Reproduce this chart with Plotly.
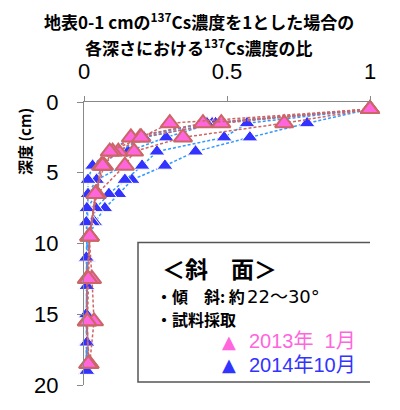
import plotly.graph_objects as go

# ---------------- data ----------------
pink_depth = [0.5, 1.5, 2.5, 3.5, 4.5, 6.5, 9.5, 12.5, 15.5, 18.5]
pink_1 = [1.00, 0.70, 0.346, 0.175, 0.143, 0.045, 0.020, 0.012, 0.010, 0.015]
pink_2 = [1.00, 0.48, 0.196, 0.120, 0.060, 0.040, 0.018, 0.028, 0.035, 0.020]
pink_3 = [1.00, 0.416, 0.164, 0.100, 0.070, 0.042, 0.020, 0.010, 0.010, 0.018]
pink_4 = [1.00, 0.30, 0.200, 0.090, 0.065, 0.040, 0.020, 0.015, 0.012, 0.015]
pink_profiles = [pink_1, pink_2, pink_3, pink_4]

blue_depth = [0.5, 1.5, 2.5, 3.5, 4.5, 5.5, 6.5, 7.5, 8.5, 9.5, 11, 13, 15, 17, 19]
blue_1 = [1.00, 0.78, 0.58, 0.39, 0.283, 0.168, 0.122, 0.073, 0.038, 0.020, 0.012, 0.010, 0.010, 0.008, 0.008]
blue_2 = [1.00, 0.57, 0.49, 0.255, 0.203, 0.143, 0.087, 0.041, 0.030, 0.018, 0.012, 0.010, 0.008, 0.010, 0.008]
blue_3 = [1.00, 0.448, 0.287, 0.154, 0.140, 0.044, 0.042, 0.013, 0.010, 0.012, 0.010, 0.010, 0.010, 0.008, 0.010]
blue_4 = [1.00, 0.46, 0.21, 0.12, 0.063, 0.044, 0.014, 0.013, 0.010, 0.010, 0.010, 0.008, 0.010, 0.010, 0.008]
blue_5 = [1.00, 0.43, 0.17, 0.084, 0.030, 0.014, 0.014, 0.010, 0.008, 0.010, 0.008, 0.010, 0.008, 0.010, 0.010]
blue_profiles = [blue_1, blue_2, blue_3, blue_4, blue_5]

x_ticks = [0, 0.5, 1]
y_ticks = [0, 5, 10, 15, 20]

title_line1 = "<b>地表0-1 cmの<sup>137</sup>Cs濃度を1とした場合の</b>"
title_line2 = "<b>各深さにおける<sup>137</sup>Cs濃度の比</b>"
ytitle_text = "<b>深度 (cm)</b>"
box_title = "＜斜　面＞"
box_line1_a = "・傾　斜: 約"
box_line1_b = "22～30°"
box_line2 = "・試料採取"
legend_mark = "▲"
legend_pink = "2013年  1月"
legend_blue = "2014年10月"

# ---------------- styles ----------------
PINK_FILL = "#ff66dd"
PINK_EDGE = "#cc6666"
PINK_LINE = "#cc6666"
BLUE_FILL = "#3333ff"
BLUE_LINE = "#3399ff"
FONT = "Liberation Sans, Noto Sans CJK JP, sans-serif"
JFONT = "Noto Sans CJK JP, sans-serif"
WFONT = "DejaVu Sans, Noto Sans CJK JP, sans-serif"

fig = go.Figure()

for prof in blue_profiles:
    fig.add_trace(go.Scatter(
        x=prof, y=blue_depth, mode="lines+markers", cliponaxis=False,
        line=dict(color=BLUE_LINE, width=1.5, dash="3px,2px"),
        marker=dict(symbol="triangle-up", size=14, color=BLUE_FILL,
                    line=dict(color="white", width=1)),
        showlegend=False))

for prof in pink_profiles:
    fig.add_trace(go.Scatter(
        x=prof, y=pink_depth, mode="lines+markers", cliponaxis=False,
        line=dict(color=PINK_LINE, width=1.5, dash="3px,2px"),
        marker=dict(symbol="triangle-up", size=16, color=PINK_FILL,
                    line=dict(color=PINK_EDGE, width=2)),
        showlegend=False))

# screen-pixel helpers (plot area on screen: x 84..370, y 102..392)
def px_(px):
    return (px - 84) / 286.0

def py_(py):
    return (392 - py) / 290.0

def dx(px):
    return (px - 84) / 286.0

def dy(py):
    return (py - 102) / 14.5

fig.add_shape(type="rect", xref="x", yref="y",
              x0=dx(138), x1=dx(373), y0=dy(246), y1=dy(389),
              line=dict(color="#555555", width=1.5), fillcolor="white", layer="above")

anns = [
    dict(x=px_(199), y=py_(19), text=title_line1, font=dict(size=17, family=JFONT, color="black"),
         xanchor="center", yanchor="middle"),
    dict(x=px_(199), y=py_(46), text=title_line2, font=dict(size=17, family=JFONT, color="black"),
         xanchor="center", yanchor="middle"),
    dict(x=px_(24), y=py_(143), text=ytitle_text, textangle=-90,
         font=dict(size=15, family=JFONT, color="black"), xanchor="center", yanchor="middle"),
    dict(x=px_(219), y=py_(272), text="<b>" + box_title + "</b>", font=dict(size=23, family=JFONT, color="black"),
         xanchor="center", yanchor="middle"),
    dict(x=px_(155), y=py_(301), text="<b>" + box_line1_a + "</b>", font=dict(size=16, family=JFONT, color="black"),
         xanchor="left", yanchor="middle"),
    dict(x=px_(246), y=py_(301), text=box_line1_b, font=dict(size=18, family=WFONT, color="black"),
         xanchor="left", yanchor="middle"),
    dict(x=px_(155), y=py_(324), text="<b>" + box_line2 + "</b>", font=dict(size=16, family=JFONT, color="black"),
         xanchor="left", yanchor="middle"),
    dict(x=px_(229), y=py_(347), text=legend_mark, font=dict(size=18, family=WFONT, color="#ff66dd"),
         xanchor="center", yanchor="middle"),
    dict(x=px_(248), y=py_(347), text=legend_pink, font=dict(size=20, family=FONT, color="#ff66dd"),
         xanchor="left", yanchor="middle"),
    dict(x=px_(229), y=py_(371), text=legend_mark, font=dict(size=18, family=WFONT, color="#3333ff"),
         xanchor="center", yanchor="middle"),
    dict(x=px_(248), y=py_(371), text=legend_blue, font=dict(size=20, family=FONT, color="#3333ff"),
         xanchor="left", yanchor="middle"),
]
for a in anns:
    a["xref"] = "paper"
    a["yref"] = "paper"
    a["showarrow"] = False
    a["borderpad"] = 0
fig.update_layout(annotations=anns)

# the page adds an 8px body margin, so the figure is sized/offset to compensate
fig.update_layout(
    width=392, height=402,
    margin=dict(l=76, r=30, t=94, b=18, pad=0),
    paper_bgcolor="white", plot_bgcolor="white",
    font=dict(family=FONT, color="black"),
    showlegend=False,
)
fig.update_xaxes(range=[0, 1], side="top", tickvals=x_ticks, ticktext=[str(v) for v in x_ticks],
                 showgrid=False, zeroline=False, showline=True, linecolor="#888888", linewidth=1,
                 ticks="outside", ticklen=5, tickcolor="#888888", tickfont=dict(size=22, family=FONT),
                 ticklabelstandoff=8)
fig.update_yaxes(range=[20, 0], tickvals=y_ticks, showgrid=False, zeroline=False,
                 showline=True, linecolor="#888888", linewidth=1,
                 ticks="outside", ticklen=6, tickcolor="#888888", tickfont=dict(size=22, family=FONT),
                 ticklabelstandoff=14)

fig.write_html("out.html")
